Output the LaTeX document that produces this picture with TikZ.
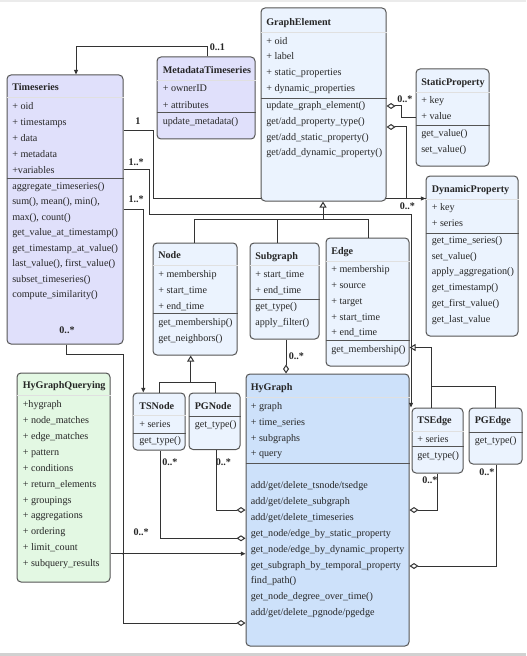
\documentclass[tikz,border=0pt]{standalone}
\usepackage{fontspec}
\setmainfont{Liberation Serif}
\usetikzlibrary{arrows.meta,fit}
\definecolor{lav}{HTML}{E0E0FB}
\definecolor{lblue}{HTML}{EBF3FE}
\definecolor{hyb}{HTML}{CDE1FA}
\definecolor{lgreen}{HTML}{E3F8E3}
\definecolor{bord}{HTML}{555555}
\definecolor{lin}{HTML}{333333}
\newcommand\rowsat[5]{\foreach \t [count=\i] in {#5}{\node[txt] (#1\i) at (#2,{#3+#4*(\i-1)}) {\t};}}
\newcommand\hsepline[2]{\draw[sepl] (#1.west |- 0,#2) -- (#1.east |- 0,#2);}
\newcommand\fsepline[2]{\draw[fsepl] (#1.west |- 0,#2) -- (#1.east |- 0,#2);}
\begin{document}
\begin{tikzpicture}[x=0.75pt,y=-0.75pt,
  box/.style={draw=bord,line width=0.75pt,rounded corners=3pt,inner sep=0pt},
  txt/.style={inner sep=0pt,anchor=west,font=\fontsize{7.6}{9}\selectfont,text height=5.4pt,text depth=1.6pt,text=black!85},
  ttl/.style={txt,font=\fontsize{7.6}{9}\selectfont\bfseries},
  lbl/.style={txt,font=\fontsize{7.6}{9}\selectfont\bfseries},
  sepl/.style={draw=bord,line width=0.75pt},
  fsepl/.style={draw=black!12,line width=0.6pt},
  conn/.style={draw=lin,line width=0.75pt},
  arr/.style={-{Triangle[length=3.5pt,width=3pt]}},
  dia/.style={-{Diamond[open,fill=white,length=6.75pt,width=4.5pt]}},
  inh/.style={-{Triangle[open,fill=white,length=4.5pt,width=5.25pt]}}]
\useasboundingbox (0,0) rectangle (526,656);
\fill[white] (0,0) rectangle (526,656);
\fill[black!8] (0,0) rectangle (526,2);
\fill[black!18] (0,653) rectangle (526,656);

% ---------- connectors drawn first (behind boxes) ----------
% Timeseries -> DynamicProperty (passes behind GraphElement)
\coordinate (c1) at (153,198.5);
% boxes
\node[box,fill=lav,fit={(7,75) (123,344)}] (ts) {};
\node[box,fill=lav,fit={(157,57) (255,139)}] (mt) {};
\node[box,fill=lblue,fit={(416,69) (489,166)}] (sp) {};
\node[box,fill=lblue,fit={(426,176) (518,336)}] (dp) {};

\draw[conn,arr] (ts.east |- 0,131) -| (c1) -- (dp.west |- 0,198.5);
\node[box,fill=lblue,fit={(261,8) (386,201)}] (ge) {};

\node[box,fill=lblue,fit={(153,243) (237,355)}] (nd) {};
\node[box,fill=lblue,fit={(250,243) (319,339)}] (sg) {};
\node[box,fill=lblue,fit={(326,238) (409,366)}] (ed) {};
\node[box,fill=lblue,fit={(133,393) (185,450)}] (tsn) {};
\node[box,fill=lblue,fit={(189,393) (240,449.5)}] (pgn) {};
\node[box,fill=hyb,fit={(246,374) (409,646)}] (hy) {};
\node[box,fill=lgreen,fit={(17,373) (110,582)}] (hq) {};
\node[box,fill=lblue,fit={(412,408) (463,473)}] (tse) {};
\node[box,fill=lblue,fit={(469,408) (522,464)}] (pge) {};

% ---------- Timeseries ----------
\node[ttl] (tsT) at (12,88.3) {Timeseries};
\fsepline{ts}{97}
\rowsat{tsa}{12}{107.3}{15.85}{+ oid, + timestamps, + data, + metadata, +variables}
\hsepline{ts}{178}
\rowsat{tsm}{12}{186.7}{15.5}{aggregate\_timeseries(), {sum(), mean(), min(),}, {max(), count()}, get\_value\_at\_timestamp(), get\_timestamp\_at\_value(), {last\_value(), first\_value()}, subset\_timeseries(), compute\_similarity()}

% ---------- MetadataTimeseries ----------
\node[ttl] (mtT) at (162.5,71) {MetadataTimeseries};
\fsepline{mt}{80}
\rowsat{mta}{162.5}{89.3}{16.7}{+ ownerID, + attributes}
\hsepline{mt}{113}
\rowsat{mtm}{162.5}{122}{16}{update\_metadata()}

% ---------- GraphElement ----------
\node[ttl] (geT) at (266,23.3) {GraphElement};
\fsepline{ge}{32}
\rowsat{gea}{266}{41.7}{15.7}{+ oid, + label, + static\_properties, + dynamic\_properties}
\hsepline{ge}{98.7}
\rowsat{gem}{266}{106}{15.8}{update\_graph\_element(), get/add\_property\_type(), get/add\_static\_property(), get/add\_dynamic\_property()}

% ---------- StaticProperty ----------
\node[ttl] (spT) at (421,83.3) {StaticProperty};
\fsepline{sp}{92.7}
\rowsat{spa}{421}{101.3}{16}{+ key, + value}
\hsepline{sp}{125.7}
\rowsat{spm}{421}{134.3}{15.7}{get\_value(), set\_value()}

% ---------- DynamicProperty ----------
\node[ttl] (dpT) at (431.5,189.5) {DynamicProperty};
\fsepline{dp}{199}
\rowsat{dpa}{431.5}{207.5}{16.5}{+ key, + series}
\hsepline{dp}{233}
\rowsat{dpm}{431.5}{240.7}{15.8}{get\_time\_series(), set\_value(), apply\_aggregation(), get\_timestamp(), get\_first\_value(), get\_last\_value}

% ---------- Node ----------
\node[ttl] (ndT) at (158,256) {Node};
\fsepline{nd}{265}
\rowsat{nda}{158}{274.7}{16}{+ membership, + start\_time, + end\_time}
\hsepline{nd}{313.3}
\rowsat{ndm}{158}{322.7}{16}{get\_membership(), get\_neighbors()}

% ---------- Subgraph ----------
\node[ttl] (sgT) at (255,256.7) {Subgraph};
\fsepline{sg}{265.5}
\rowsat{sga}{255}{275}{15.7}{+ start\_time, + end\_time}
\hsepline{sg}{299}
\rowsat{sgm}{255}{307.3}{16}{get\_type(), apply\_filter()}

% ---------- Edge ----------
\node[ttl] (edT) at (331,252) {Edge};
\fsepline{ed}{261}
\rowsat{eda}{331}{270.3}{15.75}{+ membership, + source, + target, + start\_time, + end\_time}
\hsepline{ed}{340}
\rowsat{edm}{331}{349.7}{16}{get\_membership()}

% ---------- TSNode / PGNode ----------
\node[ttl] (tsnT) at (139,406.7) {TSNode};
\fsepline{tsn}{415}
\rowsat{tsna}{139}{425}{16}{+ series}
\hsepline{tsn}{433.3}
\rowsat{tsnm}{139}{441.3}{16}{get\_type()}
\node[ttl] (pgnT) at (194.5,406.7) {PGNode};
\hsepline{pgn}{416}
\rowsat{pgnm}{194.5}{425}{16}{get\_type()}

% ---------- HyGraph ----------
\node[ttl] (hyT) at (250.5,388) {HyGraph};
\fsepline{hy}{397}
\rowsat{hya}{250.5}{406.7}{15.9}{+ graph, + time\_series, + subgraphs, + query}
\hsepline{hy}{463.3}
\rowsat{hym}{250.5}{486}{15.9}{add/get/delete\_tsnode/tsedge, add/get/delete\_subgraph, add/get/delete\_timeseries, get\_node/edge\_by\_static\_property, get\_node/edge\_by\_dynamic\_property, get\_subgraph\_by\_temporal\_property, find\_path(), get\_node\_degree\_over\_time(), add/get/delete\_pgnode/pgedge}

% ---------- HyGraphQuerying ----------
\node[ttl] (hqT) at (22.5,386.3) {HyGraphQuerying};
\fsepline{hq}{395}
\rowsat{hqa}{22.5}{405.3}{15.87}{+hygraph, + node\_matches, + edge\_matches, + pattern, + conditions, + return\_elements, + groupings, + aggregations, + ordering, + limit\_count, + subquery\_results}

% ---------- TSEdge / PGEdge ----------
\node[ttl] (tseT) at (417,420.7) {TSEdge};
\fsepline{tse}{431}
\rowsat{tsea}{417}{440}{16}{+ series}
\hsepline{tse}{446}
\rowsat{tsem}{417}{456}{16}{get\_type()}
\node[ttl] (pgeT) at (474.5,420.7) {PGEdge};
\hsepline{pge}{432}
\rowsat{pgem}{474.5}{440.5}{16}{get\_type()}

% ---------- connectors ----------
% MetadataTimeseries -> Timeseries
\draw[conn,arr] (mt.north -| 207,0) -- (207,47) -| (ts.north -| 76,0);
\node[lbl] (l01) at (209.5,47.5) {0..1};
% Timeseries -> TSEdge
\draw[conn,arr] (ts.east |- 0,169.5) -| (149,214) -| (tse.north -| 411,0);
% Timeseries -> TSNode
\draw[conn,arr] (ts.east |- 0,209.3) -| (tsn.north -| 143.3,0);
% Timeseries -> HyGraph (aggregation)
\draw[conn,dia] (ts.south -| 66,0) |- (123,354) |- (hy.west |- 0,623);
% HyGraphQuerying -> HyGraph
\draw[conn,arr] (hq.east |- 0,553.7) -- (hy.west |- 0,553.7);
\fill[lin] (123,553.7) circle (0.9);
% TSNode, PGNode -> HyGraph
\draw[conn,dia] (tsn.south -| 160,0) |- (hy.west |- 0,538.3);
\draw[conn,dia] (pgn.south -| 216,0) |- (hy.west |- 0,510);
% Subgraph -> HyGraph
\draw[conn,dia] (sg.south -| 286,0) -- (hy.north -| 286,0);
% TSEdge, PGEdge -> HyGraph
\draw[conn,dia] (tse.south -| 437,0) |- (hy.east |- 0,510);
\draw[conn,dia] (pge.south -| 496,0) |- (hy.east |- 0,566);
% StaticProperty, DynamicProperty -> GraphElement
\draw[conn,dia] (sp.west |- 0,118) -| (401,106) -- (ge.east |- 0,106);
\draw[conn,dia] (dp.west |- 0,198.5) -| (406,127) -- (ge.east |- 0,127);
% generalisation: Node, Subgraph, Edge -> GraphElement
\draw[conn,inh] (323,219.5) -- (ge.south -| 323,0);
\draw[conn] (nd.north -| 194,0) -- (194,219.5) -- (368,219.5) -- (ed.north -| 368,0);
\draw[conn] (sg.north -| 277,0) -- (277,219.5);
% TSNode, PGNode -> Node
\draw[conn,inh] (190.7,382.7) -- (nd.south -| 190.7,0);
\draw[conn] (tsn.north -| 159.3,0) |- (215,382.7) -- (pgn.north -| 215,0);
% TSEdge, PGEdge -> Edge
\draw[conn,inh] (431.7,347.5) -- (ed.east |- 0,347.5);
\draw[conn] (431.7,347.5) -- (tse.north -| 431.7,0);
\draw[conn] (431.7,386.7) -| (pge.north -| 495.7,0);

% ---------- multiplicity labels ----------
\node[lbl] (l1) at (135,121.7) {1};
\node[lbl] (l2) at (128.3,162.7) {1..*};
\node[lbl] (l3) at (128.3,200) {1..*};
\node[lbl,anchor=center] (l4) at (67,331) {0..*};
\node[lbl] (l5) at (397,100) {0..*};
\node[lbl] (l6) at (399.5,207) {0..*};
\node[lbl] (l7) at (288.5,356.7) {0..*};
\node[lbl] (l8) at (162,463.3) {0..*};
\node[lbl] (l9) at (215.5,463.3) {0..*};
\node[lbl] (l10) at (133.3,532.7) {0..*};
\node[lbl] (l11) at (422,481) {0..*};
\node[lbl] (l12) at (479,472.5) {0..*};
\end{tikzpicture}
\end{document}
